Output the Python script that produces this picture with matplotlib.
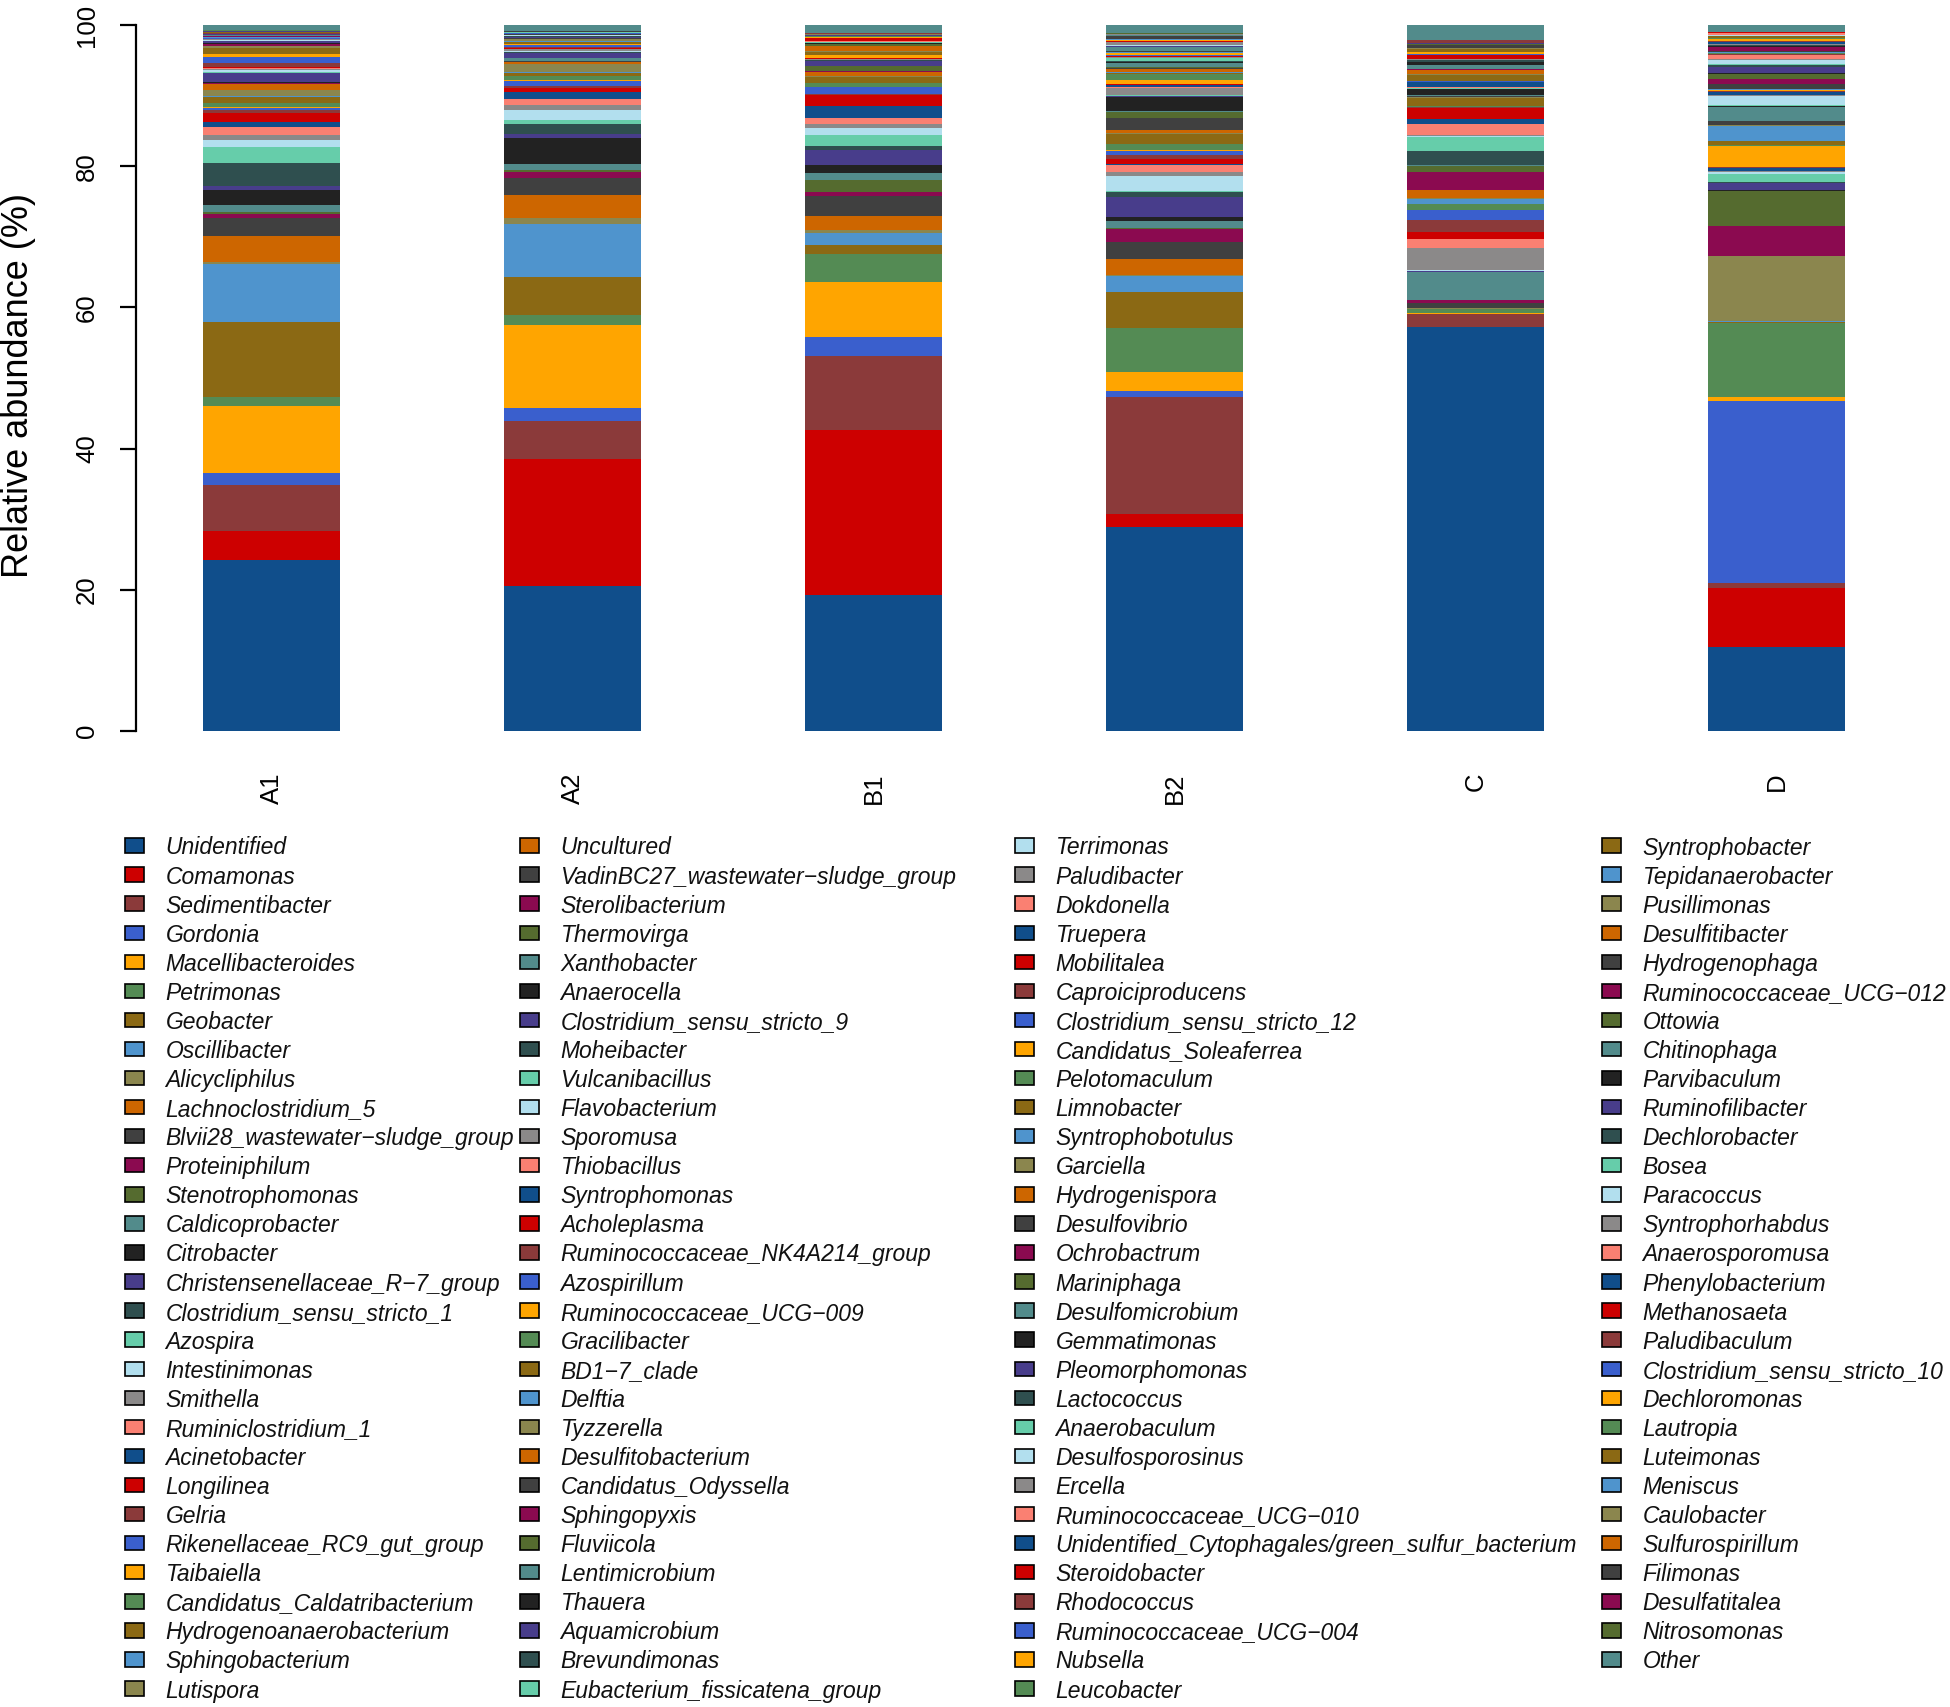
import numpy as np
import matplotlib
matplotlib.use("Agg")
import matplotlib.pyplot as plt
from matplotlib.patches import Rectangle

plt.rcParams['font.family'] = ['Liberation Sans', 'DejaVu Sans']

samples = ["A1", "A2", "B1", "B2", "C", "D"]

taxa = [
    "Unidentified", "Comamonas", "Sedimentibacter", "Gordonia", "Macellibacteroides",
    "Petrimonas", "Geobacter", "Oscillibacter", "Alicycliphilus", "Lachnoclostridium_5",
    "Blvii28_wastewater\u2212sludge_group", "Proteiniphilum", "Stenotrophomonas", "Caldicoprobacter", "Citrobacter",
    "Christensenellaceae_R\u22127_group", "Clostridium_sensu_stricto_1", "Azospira", "Intestinimonas", "Smithella",
    "Ruminiclostridium_1", "Acinetobacter", "Longilinea", "Gelria", "Rikenellaceae_RC9_gut_group",
    "Taibaiella", "Candidatus_Caldatribacterium", "Hydrogenoanaerobacterium", "Sphingobacterium", "Lutispora",
    "Uncultured", "VadinBC27_wastewater\u2212sludge_group", "Sterolibacterium", "Thermovirga", "Xanthobacter",
    "Anaerocella", "Clostridium_sensu_stricto_9", "Moheibacter", "Vulcanibacillus", "Flavobacterium",
    "Sporomusa", "Thiobacillus", "Syntrophomonas", "Acholeplasma", "Ruminococcaceae_NK4A214_group",
    "Azospirillum", "Ruminococcaceae_UCG\u2212009", "Gracilibacter", "BD1\u22127_clade", "Delftia",
    "Tyzzerella", "Desulfitobacterium", "Candidatus_Odyssella", "Sphingopyxis", "Fluviicola",
    "Lentimicrobium", "Thauera", "Aquamicrobium", "Brevundimonas", "Eubacterium_fissicatena_group",
    "Terrimonas", "Paludibacter", "Dokdonella", "Truepera", "Mobilitalea",
    "Caproiciproducens", "Clostridium_sensu_stricto_12", "Candidatus_Soleaferrea", "Pelotomaculum", "Limnobacter",
    "Syntrophobotulus", "Garciella", "Hydrogenispora", "Desulfovibrio", "Ochrobactrum",
    "Mariniphaga", "Desulfomicrobium", "Gemmatimonas", "Pleomorphomonas", "Lactococcus",
    "Anaerobaculum", "Desulfosporosinus", "Ercella", "Ruminococcaceae_UCG\u2212010", "Unidentified_Cytophagales/green_sulfur_bacterium",
    "Steroidobacter", "Rhodococcus", "Ruminococcaceae_UCG\u2212004", "Nubsella", "Leucobacter",
    "Syntrophobacter", "Tepidanaerobacter", "Pusillimonas", "Desulfitibacter", "Hydrogenophaga",
    "Ruminococcaceae_UCG\u2212012", "Ottowia", "Chitinophaga", "Parvibaculum", "Ruminofilibacter",
    "Dechlorobacter", "Bosea", "Paracoccus", "Syntrophorhabdus", "Anaerosporomusa",
    "Phenylobacterium", "Methanosaeta", "Paludibaculum", "Clostridium_sensu_stricto_10", "Dechloromonas",
    "Lautropia", "Luteimonas", "Meniscus", "Caulobacter", "Sulfurospirillum",
    "Filimonas", "Desulfatitalea", "Nitrosomonas", "Other",
]

# relative abundance (%) per taxon, same order as taxa
A1 = [24.2, 4.2, 6.4, 1.8, 9.5, 1.2, 10.6, 8.3, 0.3, 3.6,
      2.6, 0.5, 0.3, 1.0, 2.2, 0.5, 3.2, 2.3, 1.0, 0.7,
      1.1, 0.8, 1.3, 0.4, 0.3, 0.05, 0.6, 0.9, 0.1, 0.8,
      0.85, 0.1, 0.05, 0.05, 0.05, 0.05, 1.3, 0.05, 0.05, 0.3,
      0.25, 0.05, 0.05, 0.05, 0.6, 0.9, 0.4, 0.05, 0.75, 0.05,
      0.3, 0.02, 0.02, 0.25, 0.02, 0.02, 0.02, 0.3, 0.02, 0.02,
      0.15, 0.1, 0.02, 0.02, 0.02, 0.02, 0.1, 0.02, 0.02, 0.02,
      0.02, 0.1, 0.02, 0.02, 0.02, 0.02, 0.15, 0.02, 0.1, 0.02,
      0.01, 0.01, 0.01, 0.01, 0.01, 0.01, 0.1, 0.01, 0.01, 0.01,
      0.1, 0.01, 0.01, 0.01, 0.01, 0.01, 0.01, 0.01, 0.01, 0.01,
      0.01, 0.01, 0.05, 0.01, 0.01, 0.01, 0.01, 0.01, 0.01, 0.01,
      0.01, 0.01, 0.01, 0.01, 0.01, 0.01, 0.01, 0.01, 0.7]

A2 = [20.5, 18.0, 5.5, 1.8, 11.7, 1.5, 5.4, 7.5, 0.8, 3.3,
      2.4, 0.8, 0.4, 0.8, 3.6, 0.7, 1.3, 0.6, 1.4, 0.8,
      0.85, 1.0, 0.5, 0.3, 0.7, 0.1, 0.55, 0.5, 0.1, 1.2,
      0.25, 0.1, 0.05, 0.05, 0.3, 0.05, 0.75, 0.05, 0.05, 0.2,
      0.2, 0.05, 0.05, 0.05, 0.15, 0.35, 0.05, 0.1, 0.3, 0.05,
      0.3, 0.01, 0.1, 0.01, 0.01, 0.01, 0.01, 0.2, 0.01, 0.01,
      0.15, 0.01, 0.01, 0.01, 0.01, 0.01, 0.01, 0.01, 0.01, 0.01,
      0.01, 0.01, 0.01, 0.01, 0.01, 0.01, 0.01, 0.01, 0.01, 0.01,
      0.01, 0.01, 0.01, 0.01, 0.01, 0.01, 0.01, 0.01, 0.01, 0.01,
      0.01, 0.01, 0.01, 0.01, 0.01, 0.01, 0.01, 0.01, 0.01, 0.01,
      0.01, 0.01, 0.01, 0.01, 0.01, 0.01, 0.01, 0.01, 0.01, 0.01,
      0.01, 0.01, 0.01, 0.01, 0.01, 0.01, 0.01, 0.01, 0.9]

B1 = [19.3, 23.5, 10.5, 2.7, 7.9, 3.9, 1.3, 1.7, 0.5, 1.9,
      2.8, 0.7, 1.7, 0.9, 1.2, 2.1, 0.6, 1.6, 1.0, 0.5,
      0.8, 1.7, 1.6, 0.15, 0.95, 0.1, 0.5, 0.9, 0.05, 0.1,
      0.55, 0.05, 0.05, 0.7, 0.05, 0.05, 0.7, 0.05, 0.05, 0.05,
      0.05, 0.05, 0.05, 0.05, 0.05, 0.05, 0.3, 0.05, 0.45, 0.05,
      0.05, 0.7, 0.05, 0.05, 0.2, 0.05, 0.05, 0.05, 0.05, 0.05,
      0.05, 0.05, 0.1, 0.05, 0.35, 0.05, 0.05, 0.1, 0.05, 0.05,
      0.01, 0.01, 0.01, 0.01, 0.01, 0.01, 0.01, 0.01, 0.01, 0.01,
      0.01, 0.01, 0.01, 0.01, 0.01, 0.01, 0.01, 0.01, 0.01, 0.01,
      0.01, 0.01, 0.01, 0.01, 0.01, 0.01, 0.01, 0.01, 0.01, 0.01,
      0.01, 0.01, 0.01, 0.01, 0.01, 0.01, 0.01, 0.01, 0.01, 0.01,
      0.01, 0.01, 0.01, 0.01, 0.01, 0.01, 0.01, 0.01, 1.1]

B2 = [29.0, 1.8, 16.7, 0.8, 2.7, 6.3, 5.0, 2.3, 0.1, 2.4,
      2.3, 1.9, 0.2, 1.0, 0.5, 2.9, 0.7, 0.1, 2.1, 0.6,
      1.0, 0.2, 0.7, 0.5, 0.6, 0.1, 0.9, 1.4, 0.05, 0.05,
      0.5, 1.6, 0.05, 0.9, 0.05, 2.1, 0.1, 0.05, 0.05, 0.1,
      1.0, 0.05, 0.35, 0.05, 0.05, 0.05, 0.45, 0.95, 0.1, 0.1,
      0.1, 0.45, 0.05, 0.05, 0.05, 0.7, 0.05, 0.05, 0.1, 0.4,
      0.1, 0.05, 0.05, 0.05, 0.05, 0.05, 0.05, 0.3, 0.05, 0.05,
      0.05, 0.05, 0.05, 0.05, 0.05, 0.05, 0.5, 0.05, 0.05, 0.05,
      0.05, 0.05, 0.4, 0.05, 0.05, 0.05, 0.05, 0.05, 0.05, 0.05,
      0.05, 0.05, 0.05, 0.05, 0.3, 0.05, 0.05, 0.05, 0.05, 0.05,
      0.01, 0.01, 0.01, 0.01, 0.01, 0.01, 0.01, 0.01, 0.01, 0.01,
      0.01, 0.01, 0.01, 0.01, 0.01, 0.01, 0.01, 0.01, 1.2]

C = [57.5, 0.05, 1.8, 0.05, 0.05, 0.55, 0.05, 0.05, 0.05, 0.1,
     0.7, 0.4, 0.05, 3.9, 0.05, 0.05, 0.05, 0.05, 0.1, 3.1,
     1.3, 0.05, 0.95, 1.65, 1.5, 0.05, 0.8, 0.05, 0.7, 0.05,
     1.2, 0.05, 2.5, 0.9, 0.05, 0.05, 0.05, 2.0, 1.9, 0.2,
     0.05, 1.6, 0.8, 1.5, 0.1, 0.05, 0.05, 0.05, 1.2, 0.05,
     0.05, 0.05, 0.05, 0.05, 0.05, 0.05, 0.85, 0.05, 0.05, 0.05,
     0.05, 0.05, 0.05, 0.7, 0.05, 0.05, 0.05, 0.05, 0.05, 0.8,
     0.05, 0.05, 0.6, 0.05, 0.05, 0.05, 0.55, 0.45, 0.05, 0.2,
     0.05, 0.05, 0.05, 0.05, 0.05, 0.5, 0.05, 0.05, 0.3, 0.05,
     0.4, 0.05, 0.05, 0.05, 0.4, 0.05, 0.05, 0.05, 0.05, 0.1,
     0.01, 0.01, 0.01, 0.01, 0.01, 0.01, 0.01, 0.3, 0.01, 0.01,
     0.01, 0.01, 0.01, 0.01, 0.01, 0.01, 0.01, 0.01, 2.1]

D = [12.0, 8.3, 0.7, 26.0, 0.5, 10.5, 0.15, 0.1, 9.25, 0.05,
     0.05, 4.2, 5.0, 0.05, 0.05, 1.05, 0.1, 1.1, 0.4, 0.1,
     0.05, 0.35, 0.05, 0.05, 0.1, 3.0, 0.05, 0.6, 2.1, 0.2,
     0.05, 0.45, 0.05, 0.05, 2.0, 0.05, 0.05, 0.05, 0.05, 1.3,
     0.1, 0.05, 0.45, 0.05, 0.05, 0.05, 0.05, 0.05, 0.05, 0.05,
     0.05, 0.05, 0.7, 0.7, 0.7, 0.05, 0.05, 0.9, 0.3, 0.05,
     0.7, 0.05, 0.55, 0.05, 0.05, 0.05, 0.05, 0.05, 0.05, 0.05,
     0.05, 0.05, 0.05, 0.05, 0.6, 0.05, 0.05, 0.05, 0.05, 0.05,
     0.05, 0.05, 0.05, 0.05, 0.3, 0.05, 0.05, 0.05, 0.3, 0.05,
     0.3, 0.01, 0.01, 0.01, 0.01, 0.01, 0.01, 0.01, 0.01, 0.01,
     0.01, 0.01, 0.01, 0.01, 0.4, 0.01, 0.01, 0.01, 0.01, 0.01,
     0.01, 0.01, 0.01, 0.01, 0.01, 0.01, 0.01, 0.01, 0.95]

palette = ["#104E8B", "#CD0000", "#8B3A3A", "#3A5FCD", "#FFA500", "#548B54", "#8B6914",
           "#4F94CD", "#8B864E", "#CD6600", "#404040", "#8B0A50", "#556B2F", "#528B8B",
           "#222222", "#483D8B", "#2F4F4F", "#66CDAA", "#B2DFEE", "#8B8989", "#FA8072"]

data = np.array([A1, A2, B1, B2, C, D], dtype=float)   # samples x taxa
data = data / data.sum(axis=1, keepdims=True) * 100.0

W, H = 1950, 1707
fig = plt.figure(figsize=(W / 100, H / 100), dpi=100)

ax = fig.add_axes([136 / W, 1 - 731 / H, (1860 - 136) / W, (731 - 25) / H])
x = np.arange(len(samples))
bottom = np.zeros(len(samples))
for j, name in enumerate(taxa):
    ax.bar(x, data[:, j], bottom=bottom, width=0.455,
           color=palette[j % len(palette)], linewidth=0)
    bottom += data[:, j]

ax.set_xlim(-0.45, 5.277)
ax.set_ylim(0, 100)
for s in ["top", "right", "bottom"]:
    ax.spines[s].set_visible(False)
ax.spines["left"].set_bounds(0, 100)
ax.spines["left"].set_linewidth(1.6)
ax.set_yticks([0, 20, 40, 60, 80, 100])
ax.set_yticklabels(["0", "20", "40", "60", "80", "100"], rotation=90, va="center")
ax.tick_params(axis="y", length=11.5, width=1.6, pad=15, labelsize=18.5, direction="out")
ax.set_xticks(x)
ax.set_xticklabels(samples, rotation=90, ha="center", va="top")
ax.tick_params(axis="x", length=0, pad=30, labelsize=18.5)

fig.text(18.5 / W, 1 - 385 / H, "Relative abundance (%)", rotation=90,
         ha="center", va="center", fontsize=26)

# legend drawn in pixel coordinates
lax = fig.add_axes([0, 0, 1, 1])
lax.set_xlim(0, W)
lax.set_ylim(H, 0)
lax.axis("off")
col_x = [125, 520, 1015, 1602]
per_col = [30, 30, 30, 29]
k = 0
for c, n in enumerate(per_col):
    for r in range(n):
        yc = 845.5 + 29.07 * r
        lax.add_patch(Rectangle((col_x[c], yc - 7.2), 19, 14.4,
                                facecolor=palette[k % len(palette)],
                                edgecolor="black", linewidth=1.2))
        lax.text(col_x[c] + 40.5, yc, taxa[k], fontsize=16.5, style="italic",
                 ha="left", va="center_baseline", color="#111111")
        k += 1

fig.savefig("out.png", dpi=100)
